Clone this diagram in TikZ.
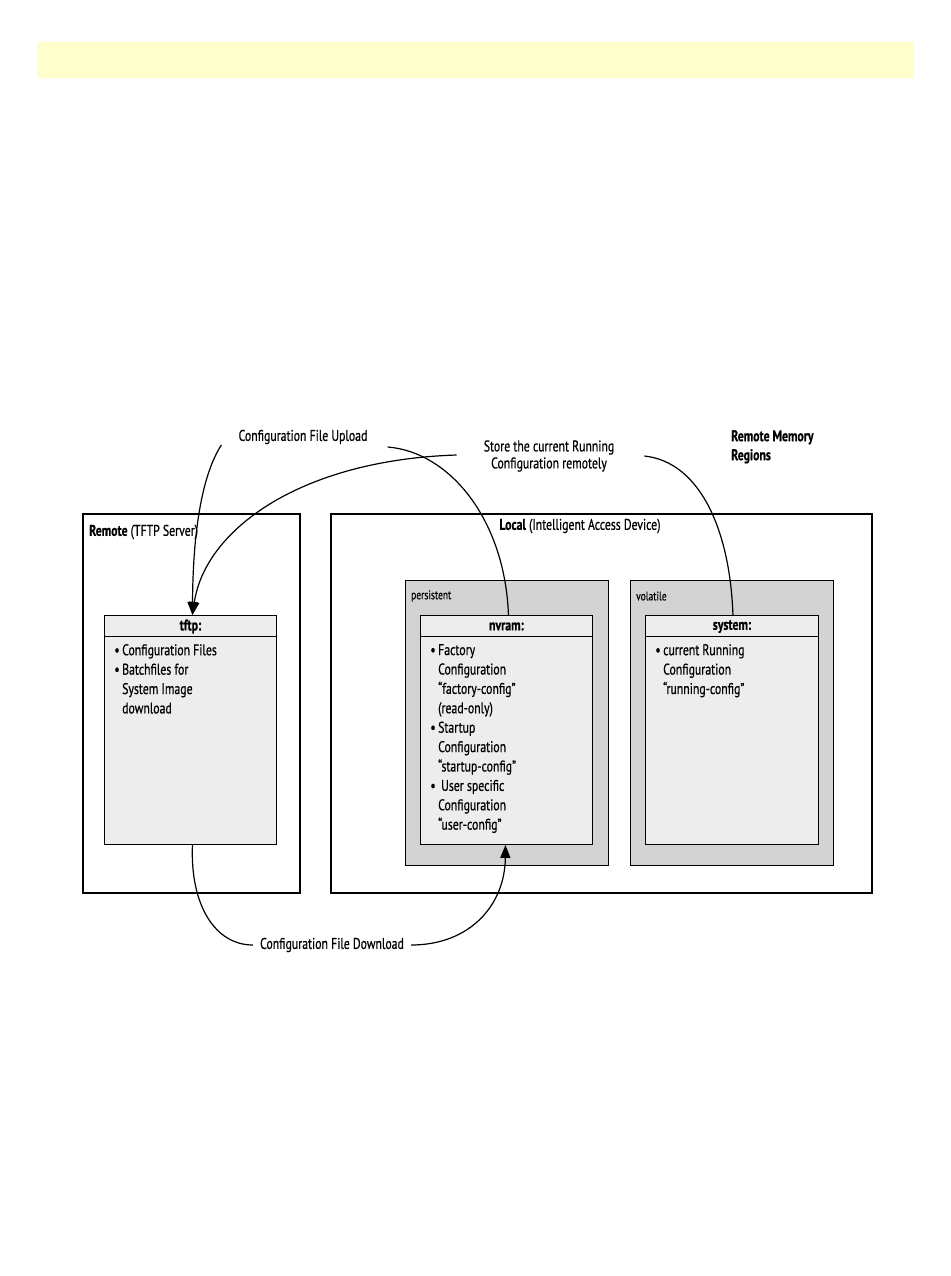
\documentclass[tikz,border=0pt]{standalone}
\usepackage{fontspec}
\setmainfont{PT Sans}[FakeStretch=0.76, FakeBold=0.6]
\usetikzlibrary{arrows.meta}
\definecolor{band}{HTML}{FFFFCC}
\definecolor{region}{HTML}{D3D3D3}
\definecolor{innerfill}{HTML}{EDEDED}
\newcommand{\blt}{\llap{\textbullet\hspace{2.5pt}}}
\begin{document}
\begin{tikzpicture}[x=1pt,y=-1pt,
  every node/.style={font=\fontsize{15.5}{19.4}\selectfont},
  outerbox/.style={draw, line width=1.8pt, inner sep=0pt, anchor=north west},
  regionbox/.style={draw, line width=0.9pt, fill=region, inner sep=0pt, anchor=north west, minimum width=203pt, minimum height=285pt},
  memobox/.style={draw, line width=0.9pt, fill=innerfill, inner sep=0pt, anchor=north west, minimum width=172pt, minimum height=229pt},
  lbl/.style={inner sep=1pt, align=center},
  listtxt/.style={anchor=north west, align=left, inner sep=0pt},
  conn/.style={line width=1.2pt},
  arr/.style={conn, -{Triangle[length=13pt,width=10pt]}}
]
\useasboundingbox (0,0) rectangle (950,1276);
\fill[band] (37,42) rectangle (913,78);

% outer boxes
\node[outerbox, minimum width=217pt, minimum height=379pt] (remote) at (82,513) {};
\node[outerbox, minimum width=541pt, minimum height=379pt] (local) at (330,513) {};
\node[anchor=west, inner sep=0pt] (remotelbl) at (89,532) {\textbf{Remote} (TFTP Server)};
\node[inner sep=0pt] (locallbl) at (580,526) {\textbf{Local} (Intelligent Access Device)};

% regions
\node[regionbox] (persist) at (405,580) {};
\node[regionbox] (volat) at (630,580) {};
\node[anchor=west, inner sep=0pt, font=\fontsize{12.5}{14}\selectfont] (persistlbl) at (411,596) {persistent};
\node[anchor=west, inner sep=0pt, font=\fontsize{12.5}{14}\selectfont] (volatlbl) at (636,596) {volatile};

% memory boxes
\node[memobox] (tftp) at (104,615) {};
\node[memobox] (nvram) at (420,615) {};
\node[memobox, minimum width=173pt] (system) at (645,615) {};
\foreach \b in {tftp,nvram,system}{
  \draw[line width=0.9pt] ([yshift=-21pt]\b.north west) -- ([yshift=-21pt]\b.north east);
}
\node (tftphd) at ([yshift=-11.5pt]tftp.north) {\textbf{tftp:}};
\node (nvramhd) at ([yshift=-11.5pt]nvram.north) {\textbf{nvram:}};
\node (systemhd) at ([yshift=-11.5pt]system.north) {\textbf{system:}};

\node[listtxt] (tftplist) at (122,644) {\blt Configuration Files\\\blt Batchfiles for\\System Image\\download};
\node[listtxt] (nvramlist) at (438,644) {\blt Factory\\Configuration\\“factory-config”\\(read-only)\\\blt Startup\\Configuration\\“startup-config”\\\blt\hspace{3pt}User specific\\Configuration\\“user-config”};
\node[listtxt] (systemlist) at (663,644) {\blt current Running\\Configuration\\“running-config”};

% labels
\node[lbl] (upload) at (303,437) {Configuration File Upload};
\node[lbl, font=\fontsize{15.5}{17}\selectfont] (store) at (549,456) {Store the current Running\\Configuration remotely};
\node[anchor=north west, align=left, inner sep=0pt, font=\fontsize{15.5}{19}\selectfont\bfseries] (rmr) at (731,430) {Remote Memory\\Regions};
\node[lbl] (download) at (332,945) {Configuration File Download};

% connectors
\coordinate (u1) at ([xshift=-16pt,yshift=-8pt]upload.west);
\coordinate (u2) at ([xshift=19pt,yshift=-10pt]upload.east);
\coordinate (s1) at ([xshift=-26pt,yshift=1pt]store.west);
\coordinate (s2) at ([xshift=29pt]store.east);
\coordinate (d1) at ([xshift=-6pt]download.west);
\coordinate (d2) at ([xshift=6pt]download.east);

\draw[arr] (u1) .. controls (205,470) and (193,520) .. ([xshift=2pt]tftp.north);
\draw[conn] (u2) .. controls (450,452) and (505,520) .. ([xshift=2pt]nvram.north);
\draw[arr] (s1) .. controls (300,460) and (205,530) .. ([xshift=2pt]tftp.north);
\draw[conn] (s2) .. controls (700,462) and (730,530) .. ([xshift=1pt]system.north);
\draw[conn] ([xshift=2pt]tftp.south) .. controls (190,905) and (215,945) .. (d1);
\draw[arr] (d2) .. controls (470,945) and (505,905) .. ([xshift=-1pt]nvram.south);
\end{tikzpicture}
\end{document}
